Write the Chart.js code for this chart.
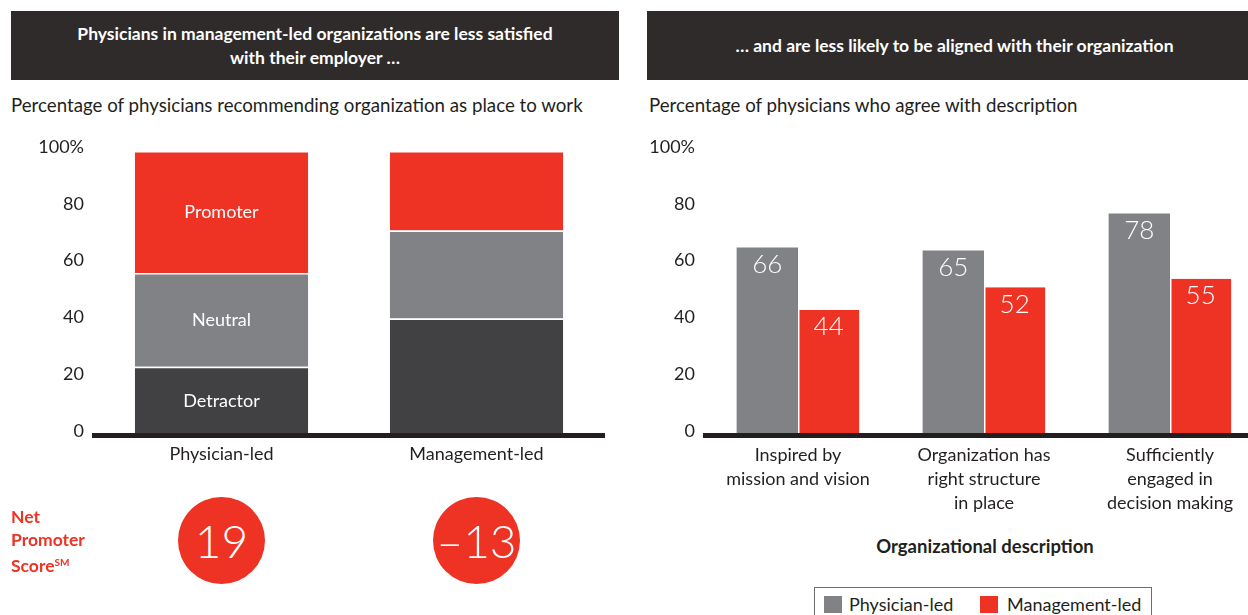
<!DOCTYPE html>
<html>
<head>
<meta charset="utf-8">
<script src="https://cdn.jsdelivr.net/npm/chart.js@4.4.1/dist/chart.umd.min.js"></script>
<style>
  html, body { margin: 0; padding: 0; background: #fff; }
  body { width: 1248px; height: 615px; overflow: hidden; position: relative; font-family: Lato, sans-serif; color: #231f20; }
  .hdr { position: absolute; top: 11px; height: 69px; background: #2f2b2a; color: #fff; font-weight: bold;
         font-size: 17.5px; line-height: 24px; display: flex; align-items: center; justify-content: center; text-align: center; }
  .sub { position: absolute; top: 93px; font-size: 18.7px; line-height: 24px; white-space: nowrap; }
  canvas { position: absolute; }
  .nps-title { position: absolute; left: 11px; top: 506px; color: #ee3224; font-weight: bold; font-size: 17.5px; line-height: 22.5px; }
  .nps-title sup { font-size: 10px; vertical-align: 6px; }
  .nps { position: absolute; width: 87px; height: 87px; border-radius: 50%; background: #ee3224; color: #fff;
         font-size: 46px; font-weight: 300; display: flex; align-items: center; justify-content: center; }
  .xtitle { position: absolute; top: 534px; left: 835px; width: 300px; text-align: center; font-weight: bold; font-size: 18.5px; line-height: 24px; }
  .legend { position: absolute; left: 814px; top: 587px; width: 338px; height: 40px; border: 1px solid #6d6e71; box-sizing: border-box; }
  .legend span { position: absolute; top: 6px; font-size: 18px; line-height: 20px; white-space: nowrap; }
  .legend i { position: absolute; top: 8px; width: 18px; height: 17px; }
</style>
</head>
<body>

<div class="hdr" style="left:11px; width:608px;">Physicians in management-led organizations are less satisfied<br>with their employer …</div>
<div class="hdr" style="left:647px; width:615px;">… and are less likely to be aligned with their organization</div>

<div class="sub" style="left:11px;">Percentage of physicians recommending organization as place to work</div>
<div class="sub" style="left:649px;">Percentage of physicians who agree with description</div>

<canvas id="npsChart" width="620" height="410" style="left:0; top:110px;"></canvas>
<canvas id="descChart" width="640" height="410" style="left:640px; top:110px;"></canvas>

<div class="nps-title">Net<br>Promoter<br>Score<sup>SM</sup></div>
<div id="npsCircles"></div>

<div class="xtitle">Organizational description</div>
<div class="legend">
  <i style="left:9px; background:#818286;"></i><span style="left:34px;">Physician-led</span>
  <i style="left:165px; background:#ee3224;"></i><span style="left:192px;">Management-led</span>
</div>

<script>
// ================= DATA =================
const groupLabels = ["Physician-led", "Management-led"];
const detractor = [24, 41];
const neutral = [33, 31];
const promoter = [43, 28];

const descLabels = [
  ["Inspired by", "mission and vision"],
  ["Organization has", "right structure", "in place"],
  ["Sufficiently", "engaged in", "decision making"]
];
const physicianLed = [66, 65, 78];
const managementLed = [44, 52, 55];

const yTicks = [0, 20, 40, 60, 80, 100];

// ================= STYLE =================
const RED = "#ee3224";
const GRAY = "#818286";
const DARK = "#414042";
const INK = "#231f20";
const FONT = "Lato, sans-serif";

const tickLabel = v => (v === yTicks[yTicks.length - 1] ? v + "%" : v);

function yScale(width) {
  return {
    min: yTicks[0],
    max: yTicks[yTicks.length - 1],
    grid: { display: false, drawTicks: false },
    border: { display: false },
    afterBuildTicks: s => { s.ticks = yTicks.map(v => ({ value: v })); },
    ticks: { callback: tickLabel, color: INK, padding: 10, labelOffset: -4, font: { family: FONT, size: 18 } },
    afterFit: s => { s.width = width; }
  };
}

function xScale(stacked, padding) {
  return {
    stacked,
    grid: { display: false, drawTicks: false },
    border: { display: true, width: 5, color: INK, z: 1 },
    ticks: { color: INK, padding, maxRotation: 0, autoSkip: false, font: { family: FONT, size: 18, lineHeight: 24 / 18 } },
    afterFit: s => { s.height = 85; }
  };
}

// ================= PLUGINS =================
const segmentLabels = {
  id: "segmentLabels",
  afterDatasetsDraw(chart) {
    const ctx = chart.ctx;
    ctx.save();
    ctx.fillStyle = "#fff";
    ctx.font = "18px " + FONT;
    ctx.textAlign = "center";
    ctx.textBaseline = "middle";
    chart.data.datasets.forEach((ds, i) => {
      const bar = chart.getDatasetMeta(i).data[0];
      ctx.fillText(ds.label, bar.x, (bar.y + bar.base) / 2);
    });
    ctx.restore();
  }
};

const valueLabels = {
  id: "valueLabels",
  afterDatasetsDraw(chart) {
    const ctx = chart.ctx;
    ctx.save();
    ctx.fillStyle = "#fff";
    ctx.font = "300 26px " + FONT;
    ctx.textAlign = "center";
    ctx.textBaseline = "middle";
    chart.data.datasets.forEach((ds, i) => {
      chart.getDatasetMeta(i).data.forEach((bar, j) => {
        ctx.fillText(ds.data[j], bar.x, bar.y + 17);
      });
    });
    ctx.restore();
  }
};

// ================= LEFT CHART =================
const segBorder = { borderColor: "#fff", borderWidth: { top: 1.5, bottom: 0, left: 0, right: 0 }, borderSkipped: false,
                    barPercentage: 0.68, categoryPercentage: 1 };

const npsChart = new Chart(document.getElementById("npsChart"), {
  type: "bar",
  data: {
    labels: groupLabels,
    datasets: [
      { label: "Detractor", data: detractor, backgroundColor: DARK, ...segBorder },
      { label: "Neutral", data: neutral, backgroundColor: GRAY, ...segBorder },
      { label: "Promoter", data: promoter, backgroundColor: RED, ...segBorder }
    ]
  },
  options: {
    responsive: false,
    animation: false,
    devicePixelRatio: 1,
    layout: { padding: { top: 41, right: 16, bottom: 0, left: 0 } },
    plugins: { legend: { display: false }, tooltip: { enabled: false } },
    scales: {
      x: xScale(true, 7),
      y: { ...yScale(94), stacked: true }
    }
  },
  plugins: [segmentLabels]
});

// ================= RIGHT CHART =================
const descChart = new Chart(document.getElementById("descChart"), {
  type: "bar",
  data: {
    labels: descLabels,
    datasets: [
      { label: "Physician-led", data: physicianLed, backgroundColor: GRAY, borderWidth: 0,
        barPercentage: 1, categoryPercentage: 0.66 },
      { label: "Management-led", data: managementLed, backgroundColor: RED, borderColor: "#fff",
        borderWidth: { left: 1.5, top: 0, right: 0, bottom: 0 }, borderSkipped: false,
        barPercentage: 1, categoryPercentage: 0.66 }
    ]
  },
  options: {
    responsive: false,
    animation: false,
    devicePixelRatio: 1,
    layout: { padding: { top: 41, right: 17, bottom: 0, left: 0 } },
    plugins: { legend: { display: false }, tooltip: { enabled: false } },
    scales: {
      x: xScale(false, 8),
      y: yScale(65)
    }
  },
  plugins: [valueLabels]
});

// ================= NPS CIRCLES =================
const npsBox = document.getElementById("npsCircles");
groupLabels.forEach((g, i) => {
  const score = promoter[i] - detractor[i];
  const cx = npsChart.scales.x.getPixelForValue(i);
  const el = document.createElement("div");
  el.className = "nps";
  el.style.left = (cx - 43.5) + "px";
  el.style.top = "497px";
  el.textContent = score < 0 ? "\u2013" + Math.abs(score) : String(score);
  npsBox.appendChild(el);
});
</script>
</body>
</html>
